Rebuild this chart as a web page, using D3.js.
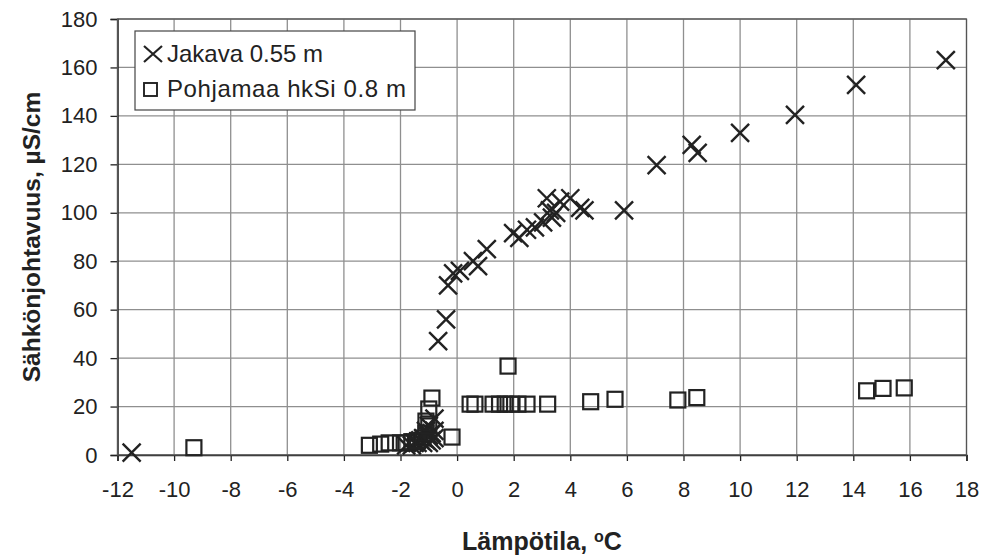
<!DOCTYPE html>
<html><head><meta charset="utf-8">
<script src="https://cdn.jsdelivr.net/npm/d3@7"></script>
<style>body{margin:0;background:#fff}svg{display:block}</style>
</head><body>
<script>
const xTicks = [-12,-10,-8,-6,-4,-2,0,2,4,6,8,10,12,14,16,18];
const yTicks = [0,20,40,60,80,100,120,140,160,180];
const seriesNames = ["Jakava 0.55 m", "Pohjamaa hkSi 0.8 m"];
const jakavaX = [-11.5,-1.8,-1.6,-1.5,-1.4,-1.3,-1.2,-1.2,-1.1,-1.0,-1.0,-0.9,-0.9,-0.8,-0.8,-1.1,-1.0,-0.8,
  -0.67,-0.39,-0.32,-0.14,0.1,0.56,0.74,1.05,1.98,2.2,2.47,2.75,3.04,3.35,3.28,3.5,3.17,3.64,4.0,4.35,4.5,5.9,7.05,8.29,8.5,10.0,11.94,14.1,17.27];
const jakavaY = [1,4,4,5,5,6,5,7,6,8,5,9,6,10,7,10,12,15,
  47,56,70,75,76,80,78,85,91.6,89.6,93,94,96,98,101,100,106,104.6,106,102,101,101,119.7,128,124.7,133,140.4,152.8,163];
const pohjX = [-9.3,-3.1,-2.7,-2.4,-2.0,-1.8,-1.6,-1.4,-1.2,-1.1,-1.0,-1.1,-1.0,-0.89,-0.18,0.46,0.63,1.27,1.5,1.7,1.9,2.15,2.47,3.2,1.8,4.72,5.58,7.8,8.47,14.47,15.05,15.8];
const pohjY = [3,4,4.5,5,5,5,5.5,6,7,9,12,14,19,23.5,7.4,21,21,21,21,21,21,21,21,21,36.7,22,23,22.7,23.7,26.5,27.5,27.7];

const W = 981, H = 557;
const m = {left:117.5, right:981-966.5, top:19, bottom:557-455};
const svg = d3.select("body").append("svg").attr("width",W).attr("height",H);
const x = d3.scaleLinear().domain([-12,18]).range([m.left, W-m.right]);
const y = d3.scaleLinear().domain([0,180]).range([H-m.bottom, m.top]);
const ink = "#222";
const font = "'Liberation Sans', Arial, sans-serif";

// grid
svg.append("g").selectAll("line").data(xTicks).join("line")
  .attr("x1",d=>x(d)).attr("x2",d=>x(d)).attr("y1",y(0)).attr("y2",y(180))
  .attr("stroke","#8f8f8f").attr("stroke-width",1.3);
svg.append("g").selectAll("line").data(yTicks).join("line")
  .attr("x1",x(-12)).attr("x2",x(18)).attr("y1",d=>y(d)).attr("y2",d=>y(d))
  .attr("stroke","#8f8f8f").attr("stroke-width",1.3);

// axes
const xAxis = svg.append("g").attr("transform",`translate(0,${y(0)})`)
  .call(d3.axisBottom(x).tickValues(xTicks).tickSize(6).tickPadding(20).tickFormat(d=>String(d)));
const yAxis = svg.append("g").attr("transform",`translate(${x(-12)},0)`)
  .call(d3.axisLeft(y).tickValues(yTicks).tickSize(7).tickPadding(13).tickFormat(d=>String(d)));
[xAxis,yAxis].forEach(a=>{
  a.select(".domain").attr("stroke",ink).attr("stroke-width",1.5);
  a.selectAll(".tick line").attr("stroke",ink).attr("stroke-width",1.3);
  a.selectAll("text").attr("font-family",font).attr("font-size",22).attr("fill",ink);
});
// right and top border
svg.append("rect").attr("x",x(-12)).attr("y",y(180)).attr("width",x(18)-x(-12)).attr("height",y(0)-y(180))
  .attr("fill","none").attr("stroke","#555").attr("stroke-width",1.2);

// markers
const crossPath = s => `M${-s},${-s}L${s},${s}M${-s},${s}L${s},${-s}`;
svg.append("g").selectAll("path").data(d3.range(jakavaX.length)).join("path")
  .attr("transform",i=>`translate(${x(jakavaX[i])},${y(jakavaY[i])})`)
  .attr("d",crossPath(9)).attr("stroke",ink).attr("stroke-width",2.4).attr("fill","none");
svg.append("g").selectAll("rect").data(d3.range(pohjX.length)).join("rect")
  .attr("x",i=>x(pohjX[i])-7.5).attr("y",i=>y(pohjY[i])-7.5).attr("width",15).attr("height",15)
  .attr("fill","none").attr("stroke",ink).attr("stroke-width",2.2);

// legend
const lg = svg.append("g");
lg.append("rect").attr("x",135).attr("y",31).attr("width",280).attr("height",79)
  .attr("fill","#fff").attr("stroke","#444").attr("stroke-width",1.2);
lg.append("path").attr("transform","translate(153,54)").attr("d","M-9,-8L9,8M-9,8L9,-8")
  .attr("stroke",ink).attr("stroke-width",2.2).attr("fill","none");
lg.append("rect").attr("x",144).attr("y",83).attr("width",13).attr("height",13)
  .attr("fill","none").attr("stroke",ink).attr("stroke-width",1.9);
lg.selectAll("text").data(seriesNames).join("text")
  .attr("x",167).attr("y",(d,i)=>62+i*35)
  .attr("font-family",font).attr("font-size",24).attr("letter-spacing",(d,i)=>i?0.6:0)
  .attr("fill",ink).text(d=>d);

// axis titles
svg.append("text").attr("x",(x(-12)+x(18))/2).attr("y",550).attr("text-anchor","middle")
  .attr("font-family",font).attr("font-size",25).attr("font-weight","bold").attr("fill",ink)
  .html('Lämpötila, <tspan baseline-shift="super" font-size="16">o</tspan>C');
svg.append("text").attr("transform",`translate(40,${(y(0)+y(180))/2}) rotate(-90)`).attr("text-anchor","middle")
  .attr("font-family",font).attr("font-size",24.5).attr("font-weight","bold").attr("fill",ink)
  .text("Sähkönjohtavuus, µS/cm");
</script>
</body></html>
